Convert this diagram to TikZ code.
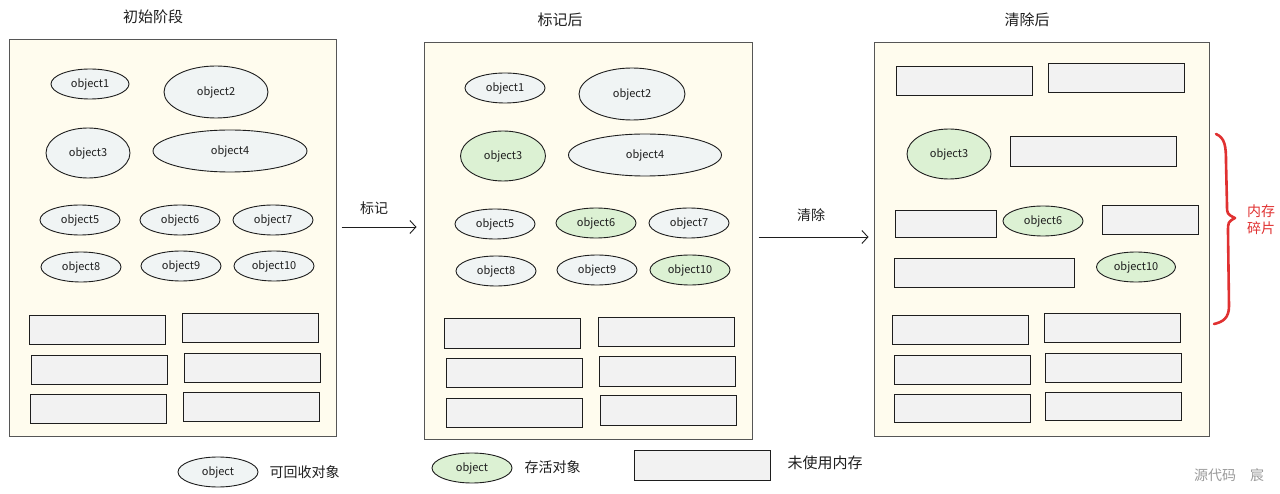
\documentclass[tikz,border=0pt]{standalone}
\usepackage{fontspec}
\setmainfont{Noto Sans CJK SC}
\usetikzlibrary{shapes.geometric,arrows.meta}
\definecolor{ink}{HTML}{1E1E1E}
\definecolor{panelfill}{HTML}{FFFCEE}
\definecolor{objfill}{HTML}{F0F4F4}
\definecolor{livefill}{HTML}{DCF1D3}
\definecolor{freefill}{HTML}{F2F2F2}
\definecolor{bracered}{HTML}{E03131}
\definecolor{wmgray}{HTML}{9A9A9A}
\tikzset{
  panel/.style={draw=ink!75, line width=1pt, fill=panelfill, rectangle, inner sep=0pt},
  obj/.style={draw=ink, line width=0.9pt, fill=objfill, ellipse, inner sep=0pt, minimum width=80pt, minimum height=30pt, font=\fontsize{11}{13}\selectfont, text=ink},
  live/.style={obj, fill=livefill},
  free/.style={draw=ink, line width=0.9pt, fill=freefill, rectangle, inner sep=0pt, minimum width=136pt, minimum height=29pt},
  title/.style={font=\fontsize{15}{18}\selectfont, text=ink},
  lbl/.style={font=\fontsize{14}{17}\selectfont, text=ink},
  arr/.style={draw=ink, line width=0.9pt, -{Straight Barb[length=6pt,width=13pt]}},
}
\begin{document}
\begin{tikzpicture}[x=1pt,y=-1pt]
\useasboundingbox (0,0) rectangle (1280,494);
% titles
\node[title] (t1) at (153,17) {初始阶段};
\node[title] (t2) at (560,20) {标记后};
\node[title] (t3) at (1027,20) {清除后};
% panels
\node[panel, minimum width=327pt, minimum height=396pt] (panel1) at (172.5,238) {};
\node[panel, minimum width=328pt, minimum height=396pt] (panel2) at (588,241) {};
\node[panel, minimum width=335pt, minimum height=393pt] (panel3) at (1041.5,239.5) {};
% panel 1 objects
\node[obj, minimum width=78pt] (a1) at (90,84) {object1};
\node[obj, minimum width=104pt, minimum height=52pt] (a2) at (216,92) {object2};
\node[obj, minimum width=84pt, minimum height=50pt] (a3) at (88,153) {object3};
\node[obj, minimum width=154pt, minimum height=42pt] (a4) at (230,151) {object4};
\node[obj] (a5) at (80,220) {object5};
\node[obj] (a6) at (180,220) {object6};
\node[obj] (a7) at (273,220) {object7};
\node[obj] (a8) at (81,267) {object8};
\node[obj] (a9) at (181,266) {object9};
\node[obj] (a10) at (274,266) {object10};
% panel 1 free blocks
\node[free] (af1) at (97,330) {};
\node[free] (af2) at (250,328) {};
\node[free] (af3) at (99,369.5) {};
\node[free] (af4) at (252,367.5) {};
\node[free] (af5) at (98,408.5) {};
\node[free] (af6) at (251,406.5) {};
% panel 2 objects
\node[obj, minimum width=80pt] (b1) at (505,88) {object1};
\node[obj, minimum width=106pt, minimum height=52pt] (b2) at (632,94) {object2};
\node[live, minimum width=85pt, minimum height=50pt] (b3) at (503,156) {object3};
\node[obj, minimum width=153pt, minimum height=42pt] (b4) at (645,155) {object4};
\node[obj] (b5) at (495,224) {object5};
\node[live] (b6) at (596,223) {object6};
\node[obj] (b7) at (689,223) {object7};
\node[obj] (b8) at (496,271) {object8};
\node[obj] (b9) at (597,270) {object9};
\node[live] (b10) at (690,270) {object10};
% panel 2 free blocks
\node[free, minimum height=30pt] (bf1) at (512,333) {};
\node[free] (bf2) at (666,331.5) {};
\node[free] (bf3) at (514.5,372.5) {};
\node[free, minimum height=30pt] (bf4) at (667.5,371) {};
\node[free] (bf5) at (514,412.5) {};
\node[free, minimum height=30pt] (bf6) at (668,410) {};
% panel 3
\node[free] (cf1) at (964.5,80.5) {};
\node[free] (cf2) at (1116.5,77.5) {};
\node[live, minimum width=84pt, minimum height=50pt] (c3) at (949,154) {object3};
\node[free, minimum width=166pt, minimum height=30pt] (cf3) at (1093,151) {};
\node[free, minimum width=101pt, minimum height=27pt] (cf4) at (945.5,223.5) {};
\node[live] (c6) at (1043,221) {object6};
\node[free, minimum width=96pt] (cf5) at (1150,219.5) {};
\node[free, minimum width=180pt] (cf6) at (984,272.5) {};
\node[live, minimum width=79pt] (c10) at (1136,267) {object10};
\node[free] (cf7) at (960.5,329.5) {};
\node[free] (cf8) at (1112,327.5) {};
\node[free] (cf9) at (962.5,369.5) {};
\node[free] (cf10) at (1113.5,367.5) {};
\node[free, minimum height=28pt] (cf11) at (962.5,408) {};
\node[free, minimum height=28pt] (cf12) at (1113.5,406) {};
% arrows
\coordinate (mk) at (378,227);
\coordinate (cl) at (812,237);
\draw[arr] ([xshift=5pt]panel1.east |- mk) -- ([xshift=-7pt]panel2.west |- mk);
\node[lbl] (mklbl) at (374,208) {标记};
\draw[arr] ([xshift=6pt]panel2.east |- cl) -- ([xshift=-5pt]panel3.west |- cl);
\node[lbl] (cllbl) at (811,215) {清除};
% brace
\coordinate (brtop) at (1216,134);
\coordinate (brtip) at (1235,218);
\coordinate (brbot) at (1214,324);
\draw[bracered, line width=2.6pt, line cap=round, line join=round]
  (brtop) .. controls (1225,138) and (1226,146) .. (1226,162)
  -- (1227,205) .. controls (1227,214) .. (brtip)
  .. controls (1228,222) .. (1228,232)
  -- (1229,306) .. controls (1229,318) and (1223,322) .. (brbot);
\node[font=\fontsize{14}{17}\selectfont, text=bracered, align=center] (frag) at (1261,220) {内存\\碎片};
% legend
\node[obj, minimum width=80pt] (lg1) at (218,472) {object};
\node[lbl, anchor=west] (lg1t) at (266,472) {可回收对象};
\node[live, minimum width=80pt] (lg2) at (472,468) {object};
\node[lbl, anchor=west] (lg2t) at (521,467) {存活对象};
\node[free, minimum width=136pt, minimum height=30pt] (lg3) at (702,465) {};
\node[lbl, anchor=west, font=\fontsize{15}{17}\selectfont] (lg3t) at (784,463) {未使用内存};
% watermark
\node[font=\fontsize{14}{17}\selectfont, text=wmgray] (wm) at (1229,475) {源代码\quad 宸};
\end{tikzpicture}
\end{document}
